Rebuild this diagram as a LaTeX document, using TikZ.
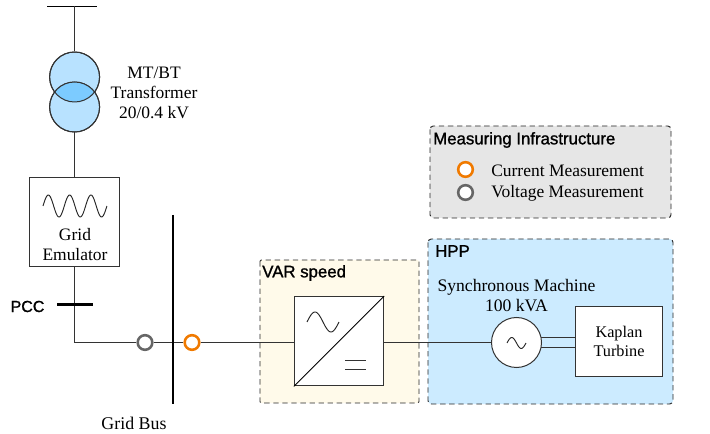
\documentclass[tikz,border=0pt]{standalone}
\usepackage{fontspec}
\setmainfont{Liberation Serif}
\newfontfamily\labelfont[FakeBold=1.2]{Liberation Sans}
\usetikzlibrary{calc}
\definecolor{wirec}{HTML}{333333}
\definecolor{xfill}{HTML}{B8E2FF}
\definecolor{xlens}{HTML}{7CCBFF}
\definecolor{hppfill}{HTML}{CCEBFF}
\definecolor{varfill}{HTML}{FFFAEA}
\definecolor{measfill}{HTML}{E6E6E6}
\definecolor{orangem}{HTML}{F07A00}
\definecolor{graym}{HTML}{666666}
\tikzset{
  x=0.75pt,y=-0.75pt,
  wire/.style={draw=wirec,line width=0.75pt},
  txt/.style={inner sep=0pt,font=\fontsize{13.1}{15}\selectfont,text=black},
  smalltxt/.style={inner sep=0pt,font=\fontsize{12.2}{14.5}\selectfont,align=center,text=black},
  head/.style={inner sep=0pt,anchor=west,font=\labelfont\fontsize{12.6}{15}\selectfont},
  region/.style={draw=black!85,line width=0.7pt,dash pattern=on 4pt off 2.8pt,rounded corners=2.5pt},
  blockbox/.style={draw=wirec,line width=0.75pt,fill=white,inner sep=0pt},
  xcircle/.style={circle,draw=wirec,line width=0.75pt,minimum size=37.5pt,inner sep=0pt},
  meas/.style={circle,fill=white,line width=1.9pt,minimum size=11pt,inner sep=0pt},
  imeas/.style={meas,draw=orangem},
  vmeas/.style={meas,draw=graym},
  busbar/.style={draw=black,line width=2.2pt},
  pccbar/.style={draw=black,line width=1.6pt},
  curve/.style={draw=black!85,line width=0.7pt,smooth}
}
\begin{document}
\begin{tikzpicture}
\useasboundingbox (0,0) rectangle (710,434);
% regions
\path[region,fill=measfill] (430,126) rectangle (671,218);
\path[region,fill=varfill,rounded corners=1pt] (260,260) rectangle (419,403);
\path[region,fill=hppfill] (428,239) rectangle (673,404);
% anchors
\coordinate (topl) at (47,6);
\coordinate (topr) at (97,6);
\coordinate (topm) at (74.6,6);
\coordinate (pccl) at (57,304.5);
\coordinate (pccr) at (93,304.5);
\coordinate (corner) at (74.6,342.5);
\coordinate (bust) at (173,215);
\coordinate (busb) at (173,404);
% transformer
\node[xcircle,fill=xfill] (xa) at (74.6,77) {};
\node[xcircle,fill=xfill] (xb) at (74.6,107) {};
\begin{scope}
  \clip (74.6,77) circle[radius=25];
  \fill[xlens] (74.6,107) circle[radius=25];
\end{scope}
\draw[draw=wirec,line width=0.75pt] (74.6,77) circle[radius=25];
\draw[draw=wirec,line width=0.75pt] (74.6,107) circle[radius=25];
\draw[draw=black,line width=0.6pt] (topl) -- (topr);
\draw[wire] (topm) -- (xa.north);
% blocks
\node[blockbox,minimum width=68pt,minimum height=66.4pt] (emul) at (74.6,222.2) {};
\node[blockbox,minimum width=67pt,minimum height=67pt] (conv) at (339,341.2) {};
\node[blockbox,minimum width=65.6pt,minimum height=53.2pt] (kap) at (619,341.5) {};
\node[circle,draw=wirec,line width=0.75pt,fill=white,minimum size=37.5pt,inner sep=0pt] (gen) at (516.5,342.5) {};
\node[vmeas] (vm) at (145,342.5) {};
\node[imeas] (im) at (192,342.5) {};
% connectors
\draw[wire] (xb.south) -- (emul.north);
\draw[wire] (emul.south) -- (corner) -- (vm.west);
\draw[wire] (vm.east) -- (im.west);
\draw[wire] (im.east) -- (im.east -| conv.west);
\draw[wire] (gen.west -| conv.east) -- (gen.west);
\coordinate (sa) at (541,338);
\coordinate (sb) at (541,347.5);
\draw[wire] (sa) -- (sa -| kap.west);
\draw[wire] (sb) -- (sb -| kap.west);
\draw[pccbar] (pccl) -- (pccr);
\draw[busbar] (bust) -- (busb);
% converter details
\draw[draw=black,line width=0.7pt] (conv.south west) -- (conv.north east);
\draw[curve,domain=0:1,samples=40] plot ({307+32*\x},{322-10*sin(360*\x)});
\draw[draw=black!80,line width=0.7pt] (345,360.7) -- (366,360.7);
\draw[draw=black!80,line width=0.7pt] (345,369) -- (366,369);
% sine symbols
\draw[curve,domain=0:3,samples=90] plot ({43+21.3*\x},{206-11*sin(360*\x)});
\draw[curve,domain=0:1,samples=30] plot ({507+19*\x},{343-5.5*sin(360*\x)});
% legend
\node[imeas] (legi) at (465.5,169.5) {};
\node[vmeas] (legv) at (465.5,192.5) {};
% labels
\node[txt,align=center] (xlabel) at (154,93) {MT/BT\\Transformer\\20/0.4 kV};
\node[txt,align=center] (emlabel) at (75,244.5) {Grid\\Emulator};
\node[head,anchor=center,font=\labelfont\fontsize{12}{15}\selectfont] (pcclabel) at (27.5,306.5) {PCC};
\node[txt,font=\fontsize{13.4}{15}\selectfont] (gblabel) at (134,423.5) {Grid Bus};
\node[head] (varlabel) at (262,273) {VAR speed};
\node[head] (hpplabel) at (435,251) {HPP};
\node[head] (measlabel) at (433,140) {Measuring Infrastructure};
\node[txt,anchor=west] (leg1) at (491,171) {Current Measurement};
\node[txt,anchor=west] (leg2) at (491,193) {Voltage Measurement};
\node[txt,align=center,font=\fontsize{13.2}{15}\selectfont] (synlabel) at (516.5,295.5) {Synchronous Machine\\100 kVA};
\node[smalltxt] (kaplabel) at (619,341.5) {Kaplan\\Turbine};
\end{tikzpicture}
\end{document}
